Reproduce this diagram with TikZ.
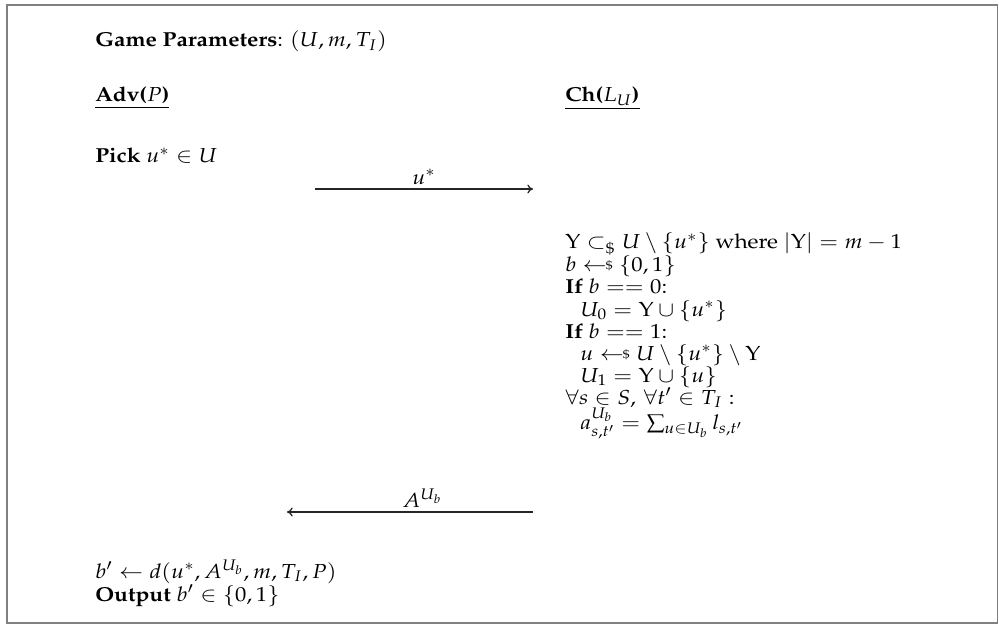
\documentclass[tikz,border=0pt]{standalone}
\usepackage[T1]{fontenc}
\usepackage{amsmath,amssymb}
\usepackage{mathpazo}
\usepackage{graphicx}
\usetikzlibrary{arrows.meta}
\newcommand{\smpl}{\mathrel{\leftarrow\!\!\raisebox{0.15ex}{$\scriptscriptstyle\$$}}}
\newcommand{\sbst}{\mathrel{\subset_{\$}}}
\newcommand{\sx}[1]{\scalebox{1.12}[1]{#1}}
\begin{document}
\begin{tikzpicture}[x=0.6173pt,y=-0.6173pt,
  txt/.style={anchor=base west, inner sep=0pt, font=\fontsize{12.5}{15}\selectfont},
  msg/.style={draw=black!85, line width=0.8pt, -{To[length=3.5pt,width=5.5pt]}},
  lbl/.style={above, inner sep=2.5pt, font=\fontsize{12.5}{15}\selectfont}]
\useasboundingbox (0,0) rectangle (999,626);
\draw[gray, line width=0.7pt] (7,5) rectangle (997.5,623);
\node[txt] (gp) at (95,47) {\sx{\textbf{Game Parameters}: $(U,m,T_I)$}};
\node[txt] (adv) at (95,102) {\sx{\underline{\textbf{Adv(}$P$\textbf{)}}}};
\node[txt] (ch) at (565,102) {\sx{\underline{\textbf{Ch(}$L_U$\textbf{)}}}};
\node[txt] (pick) at (95,163) {\sx{\textbf{Pick} $u^*\in U$}};
\coordinate (a1s) at (315,189);
\coordinate (a1e) at (533,189);
\draw[msg] (a1s) -- node[lbl] (l1) {\sx{$u^*$}} (a1e);
\node[txt] (c1) at (565,249) {\sx{$\mathrm{Y}\sbst U\setminus\{u^*\}$ where $|\mathrm{Y}|=m-1$}};
\node[txt] (c2) at (565,271) {\sx{$b\smpl\{0,1\}$}};
\node[txt] (c3) at (565,293) {\sx{\textbf{If} $b==0$:}};
\node[txt] (c4) at (580,316) {\sx{$U_0=\mathrm{Y}\cup\{u^*\}$}};
\node[txt] (c5) at (565,338) {\sx{\textbf{If} $b==1$:}};
\node[txt] (c6) at (580,360) {\sx{$u\smpl U\setminus\{u^*\}\setminus\mathrm{Y}$}};
\node[txt] (c7) at (580,382) {\sx{$U_1=\mathrm{Y}\cup\{u\}$}};
\node[txt] (c8) at (565,404) {\sx{$\forall s\in S,\,\forall t'\in T_I:$}};
\node[txt] (c9) at (580,429) {\sx{$a^{U_b}_{s,t'}=\textstyle\sum_{u\in U_b} l_{s,t'}$}};
\coordinate (a2s) at (533,512);
\coordinate (a2e) at (287,512);
\draw[msg] (a2s) -- node[lbl, pos=0.45] (l2) {\sx{$A^{U_b}$}} (a2e);
\node[txt] (o1) at (95,578) {\sx{$b'\leftarrow d(u^*,A^{U_b},m,T_I,P)$}};
\node[txt] (o2) at (95,601) {\sx{\textbf{Output} $b'\in\{0,1\}$}};
\end{tikzpicture}
\end{document}
